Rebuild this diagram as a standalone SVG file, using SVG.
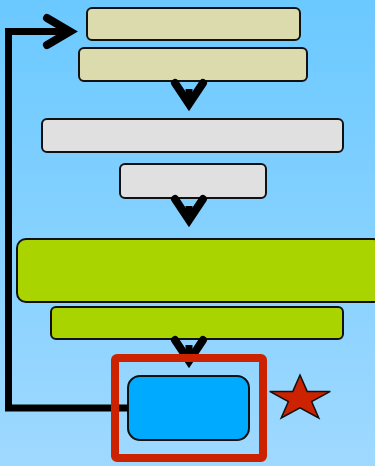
<svg xmlns="http://www.w3.org/2000/svg" width="375" height="466" viewBox="0 0 375 466">
<defs>
<linearGradient id="bg" x1="0" y1="0" x2="0" y2="1">
<stop offset="0" stop-color="#6bc9ff"/>
<stop offset="1" stop-color="#9fd9ff"/>
</linearGradient>
<style>
.box{stroke:#111;stroke-width:2}
.tan{fill:#dbdbad}
.grey{fill:#e0e0e0}
.green{fill:#aad400}
.blue{fill:#00aaff}
.con{fill:none;stroke:#000;stroke-width:7}
.head{fill:none;stroke:#000;stroke-width:8;stroke-linecap:round;stroke-linejoin:miter;stroke-miterlimit:10}
</style>
</defs>
<rect x="0" y="0" width="375" height="466" fill="url(#bg)"/>
<g id="node1"><rect class="box tan" x="87" y="8" width="213" height="32" rx="5"/></g>
<g id="node2"><rect class="box tan" x="79" y="48" width="228" height="33" rx="5"/></g>
<g id="node3"><rect class="box grey" x="42" y="119" width="301" height="33" rx="5"/></g>
<g id="node4"><rect class="box grey" x="120" y="164" width="146" height="34" rx="5"/></g>
<g id="node5"><rect class="box green" x="17" y="239" width="365" height="63" rx="9"/></g>
<g id="node6"><rect class="box green" x="51" y="307" width="292" height="32" rx="5"/></g>
<g id="node7"><rect class="box blue" x="128" y="376" width="121" height="64" rx="12"/></g>
<g id="connectors">
<path class="con" d="M128,408 H8.5 V31.5 H70" stroke-linejoin="miter"/>
<path class="head" d="M47,18 L70,31.5 L47,45"/>
<line class="con" x1="189" y1="89" x2="189" y2="100"/>
<path class="head" d="M175,83 L189,104 L203,83"/>
<line class="con" x1="189" y1="206" x2="189" y2="217"/>
<path class="head" d="M175,199 L189,220 L203,199"/>
<line class="con" x1="189" y1="345" x2="189" y2="357"/>
<path class="head" d="M175,340 L189,361 L203,340"/>
</g>
<g id="highlight">
<rect x="115" y="358" width="148" height="100" rx="2" fill="none" stroke="#cc2200" stroke-width="8"/>
</g>
<g id="star">
<polygon points="300,375 307.2,391.4 330.3,391.4 311.6,401.6 318.8,418 300,407.9 281.2,418 288.4,401.6 269.7,391.4 292.8,391.4" fill="#cc2200" stroke="#111" stroke-width="1.5" stroke-linejoin="miter"/>
</g>
</svg>
